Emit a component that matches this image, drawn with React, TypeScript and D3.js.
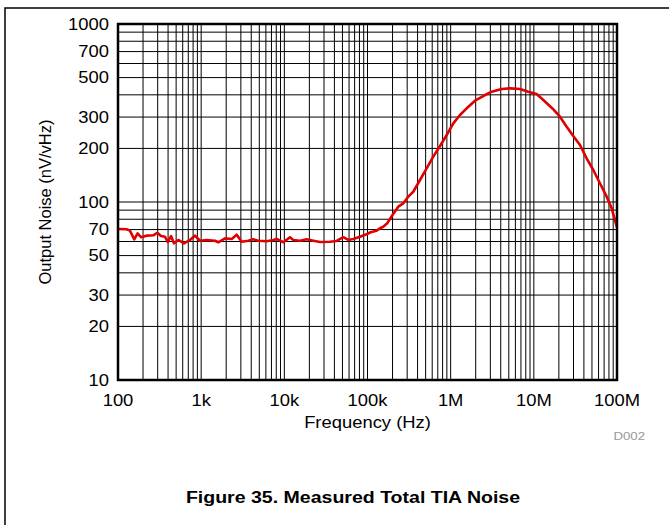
import React from "react";
import * as d3 from "d3";

const freqHz = [
  100, 106, 127, 139, 157, 172, 189, 221, 266, 297, 329, 367, 396, 434, 471, 531, 622, 734, 843, 968,
  1164, 1466, 1607, 1934, 2328, 2674, 3070, 3690, 4237, 4866, 6134, 7370, 8083, 9724, 11690, 12820,
  15420, 18570, 22330, 26850, 35400, 42570, 51190, 58760, 67460, 81100, 97500, 108900, 128500, 141300,
  154500, 172600, 203700, 234400, 269200, 309000, 355300, 427600, 514100, 618000, 744700, 895400,
  1076000, 1294000, 1558000, 1960000, 2466000, 3110000, 4102000, 5163000, 6808000, 8570000, 10810000,
  13000000, 17140000, 20610000, 24830000, 29800000, 35890000, 43150000, 51870000, 62370000, 75160000,
  86300000, 100000000,
];
const noiseNV = [
  70.5, 70.5, 70.3, 69.0, 61.7, 66.7, 63.4, 64.7, 65.0, 67.2, 64.4, 63.8, 59.6, 64.4, 58.6, 61.2,
  58.6, 61.2, 64.7, 60.6, 61.2, 60.6, 59.4, 62.5, 62.0, 65.5, 59.8, 60.6, 61.7, 60.6, 60.2, 61.2, 62.0,
  59.4, 63.4, 61.2, 60.6, 61.7, 60.6, 59.6, 59.8, 60.4, 63.4, 61.2, 62.0, 63.8, 65.9, 67.6, 69.0, 71.2,
  72.6, 75.9, 85.6, 94.1, 98.3, 107.1, 114.2, 132.9, 154.6, 179.8, 206.4, 237.9, 276.7, 308.3, 336.0,
  370.9, 393.9, 416.8, 431.3, 435.1, 431.3, 416.8, 404.3, 374.2, 331.8, 301.6, 265.0, 234.9, 209.0,
  176.0, 151.3, 127.4, 107.1, 92.2, 72.0,
];

const xTickValues = [1e2, 1e3, 1e4, 1e5, 1e6, 1e7, 1e8];
const xTickLabels = ["100", "1k", "10k", "100k", "1M", "10M", "100M"];
const yTickValues = [10, 20, 30, 50, 70, 100, 200, 300, 500, 700, 1000];
const yTickLabels = ["10", "20", "30", "50", "70", "100", "200", "300", "500", "700", "1000"];

const xTitle = "Frequency (Hz)";
const yTitle = "Output Noise (nV/vHz)";
const figTitle = "Figure 35. Measured Total TIA Noise";
const tag = "D002";

const SX = 1.15;

function T({ x, y, anchor = "start", size, weight, fill = "#000", children }: any) {
  return (
    <g transform={`translate(${x},${y}) scale(${SX},1)`}>
      <text x={0} y={0} textAnchor={anchor} fontSize={size} fontWeight={weight} fill={fill}>
        {children}
      </text>
    </g>
  );
}

export default function App() {
  const W = 669, H = 525;
  const L = 118, R = 617, Tp = 24, B = 380;
  const x = d3.scaleLog().domain([1e2, 1e8]).range([L, R]);
  const y = d3.scaleLog().domain([10, 1000]).range([B, Tp]);

  const xGrid: number[] = [];
  for (let d = 2; d < 8; d++) for (let m = 1; m <= 9; m++) {
    const v = m * Math.pow(10, d);
    if (v > 1e2 && v < 1e8) xGrid.push(v);
  }
  const yGrid: number[] = [];
  for (let d = 1; d < 3; d++) for (let m = 1; m <= 9; m++) {
    const v = m * Math.pow(10, d);
    if (v > 10 && v < 1000) yGrid.push(v);
  }
  const line = d3.line<number>().x((_, i) => x(freqHz[i])).y((v) => y(v));
  const font = "'Liberation Sans', Arial, sans-serif";

  return (
    <svg width={W} height={H} style={{ position: "absolute", left: 0, top: 0, background: "#fff" }} fontFamily={font}>
      <rect x={5} y={8} width={W} height={H} fill="none" stroke="#000" strokeWidth={1.5} />
      {xGrid.map((v) => (
        <line key={"xg" + v} x1={x(v)} x2={x(v)} y1={Tp} y2={B} stroke="#000" strokeWidth={1} />
      ))}
      {yGrid.map((v) => (
        <line key={"yg" + v} x1={L} x2={R} y1={y(v)} y2={y(v)} stroke="#000" strokeWidth={1} />
      ))}
      <path d={line(noiseNV) || ""} fill="none" stroke="#e00000" strokeWidth={2.6} strokeLinejoin="round" />
      <rect x={L} y={Tp} width={R - L} height={B - Tp} fill="none" stroke="#000" strokeWidth={2.5} />
      {yTickValues.map((v, i) => (
        <T key={"yt" + v} x={L - 9} y={y(v) + 5.6} anchor="end" size={16}>
          {yTickLabels[i]}
        </T>
      ))}
      {xTickValues.map((v, i) => (
        <T key={"xt" + v} x={x(v)} y={B + 26} anchor="middle" size={16}>
          {xTickLabels[i]}
        </T>
      ))}
      <T x={(L + R) / 2} y={B + 48} anchor="middle" size={16}>{xTitle}</T>
      <text transform={`translate(51,${(Tp + B) / 2}) rotate(-90)`} textAnchor="middle" fontSize={16.5} fill="#000">
        {yTitle}
      </text>
      <T x={645} y={440} anchor="end" size={11.5} fill="#999">{tag}</T>
      <T x={353} y={503} anchor="middle" size={17} weight="bold">{figTitle}</T>
    </svg>
  );
}
